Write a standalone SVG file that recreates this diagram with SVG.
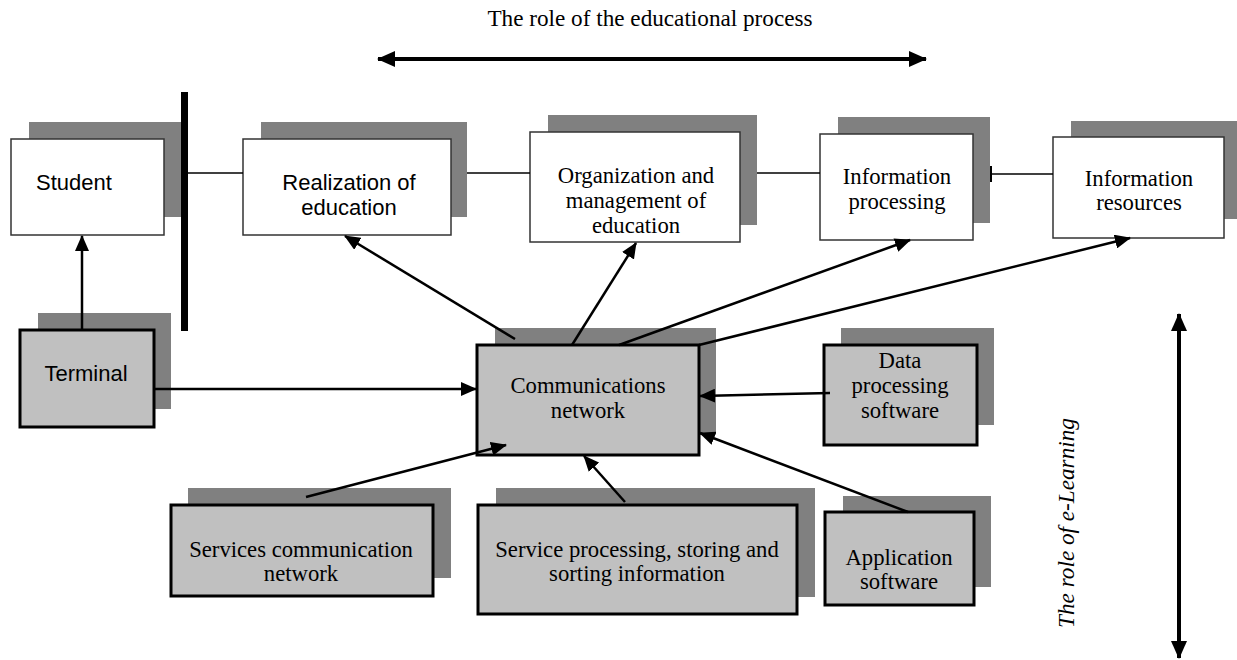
<svg xmlns="http://www.w3.org/2000/svg" width="1237" height="660" viewBox="0 0 1237 660">
<defs>
<style>
.sh{fill:#808080}
.wb{fill:#fff;stroke:#333;stroke-width:1.5}
.gb{fill:#c0c0c0;stroke:#000;stroke-width:3}
.sans{font-family:"Liberation Sans",Arial,sans-serif;font-size:22px;fill:#000;text-anchor:middle}
.serif{font-family:"Liberation Serif","Times New Roman",serif;font-size:22.7px;fill:#000;text-anchor:middle}
.ttl{font-size:23.2px}
.ln{stroke:#000;stroke-width:1.5;fill:none}
.ar{stroke:#000;stroke-width:2.5;fill:none;marker-end:url(#ah)}
.big{stroke:#000;stroke-width:4;fill:none;marker-end:url(#bh);marker-start:url(#bh)}
</style>
<marker id="ah" markerUnits="userSpaceOnUse" markerWidth="16" markerHeight="14" refX="15" refY="7" orient="auto"><path d="M0,0 L16,7 L0,14 z" fill="#000"/></marker>
<marker id="bh" markerUnits="userSpaceOnUse" markerWidth="18" markerHeight="16" refX="17" refY="8" orient="auto-start-reverse"><path d="M0,0 L18,8 L0,16 z" fill="#000"/></marker>
</defs>
<rect width="1237" height="660" fill="#fff"/>

<g id="title-top">
<text class="serif ttl" x="650" y="26">The role of the educational process</text>
</g>
<g id="title-side">
<text class="serif ttl" font-style="italic" transform="translate(1074,523) rotate(-90)">The role of e-Learning</text>
</g>

<g id="student">
<rect class="sh" x="29" y="122" width="154" height="95"/>
<rect class="wb" x="11" y="139" width="153" height="96" stroke-width="2"/>
<text class="sans" x="74" y="190">Student</text>
</g>
<g id="realization">
<rect class="sh" x="261" y="122" width="206" height="95"/>
<rect class="wb" x="243" y="139" width="208" height="96"/>
<text class="sans" x="349" y="190">Realization of</text>
<text class="sans" x="349" y="215">education</text>
</g>
<g id="organization">
<rect class="sh" x="548" y="115" width="209" height="110"/>
<rect class="wb" x="530" y="132" width="210" height="110"/>
<text class="serif" x="636" y="183">Organization and</text>
<text class="serif" x="636" y="208">management of</text>
<text class="serif" x="636" y="233">education</text>
</g>
<g id="info-processing">
<rect class="sh" x="838" y="117" width="152" height="106"/>
<rect class="wb" x="820" y="134" width="153" height="106"/>
<text class="serif" x="897" y="184">Information</text>
<text class="serif" x="897" y="209">processing</text>
</g>
<g id="info-resources">
<rect class="sh" x="1071" y="121" width="166" height="98"/>
<rect class="wb" x="1053" y="137" width="171" height="101"/>
<text class="serif" x="1139" y="186">Information</text>
<text class="serif" x="1139" y="210">resources</text>
</g>
<g id="terminal">
<rect class="sh" x="38" y="313" width="133" height="96"/>
<rect class="gb" x="20" y="330" width="134" height="97"/>
<text class="sans" x="86" y="381">Terminal</text>
</g>
<g id="comm-network">
<rect class="sh" x="495" y="328" width="221" height="107"/>
<rect class="gb" x="477" y="345" width="222" height="110"/>
<text class="serif" x="588" y="393">Communications</text>
<text class="serif" x="588" y="418">network</text>
</g>
<g id="data-processing">
<rect class="sh" x="841" y="328" width="153" height="97"/>
<rect class="gb" x="824" y="345" width="153" height="100"/>
<text class="serif" x="900" y="368">Data</text>
<text class="serif" x="900" y="393">processing</text>
<text class="serif" x="900" y="418">software</text>
</g>
<g id="services-comm">
<rect class="sh" x="188" y="488" width="263" height="90"/>
<rect class="gb" x="171" y="505" width="262" height="91"/>
<text class="serif" x="301" y="557">Services communication</text>
<text class="serif" x="301" y="581">network</text>
</g>
<g id="service-processing">
<rect class="sh" x="496" y="488" width="319" height="109"/>
<rect class="gb" x="478" y="505" width="319" height="109"/>
<text class="serif" x="637" y="557">Service processing, storing and</text>
<text class="serif" x="637" y="581">sorting information</text>
</g>
<g id="application">
<rect class="sh" x="843" y="496" width="148" height="91"/>
<rect class="gb" x="825" y="512" width="149" height="93"/>
<text class="serif" x="899" y="565">Application</text>
<text class="serif" x="899" y="589">software</text>
</g>

<g id="connectors">
<rect x="181" y="92" width="7" height="239" fill="#000"/>
<line class="ln" x1="185" y1="173" x2="243" y2="173"/>
<line class="ln" x1="467" y1="173" x2="530" y2="173"/>
<line class="ln" x1="757" y1="173" x2="820" y2="173"/>
<line class="ln" x1="991" y1="174" x2="1053" y2="174"/>
<line x1="991" y1="166" x2="991" y2="182" stroke="#000" stroke-width="2"/>
<line class="ar" x1="82" y1="330" x2="82" y2="236"/>
<line class="ar" x1="154" y1="389" x2="476" y2="389" stroke-width="2"/>
<line class="ar" x1="515" y1="339" x2="345" y2="236"/>
<line class="ar" x1="572" y1="345" x2="636" y2="243"/>
<line class="ar" x1="619" y1="345" x2="910" y2="240"/>
<line class="ar" x1="699" y1="345" x2="1130" y2="238"/>
<line class="ar" x1="830" y1="393" x2="700" y2="396"/>
<line class="ar" x1="306" y1="497" x2="506" y2="445"/>
<line class="ar" x1="625" y1="502" x2="584" y2="456"/>
<line class="ar" x1="908" y1="512" x2="700" y2="433"/>
<line class="big" x1="378" y1="59" x2="926" y2="59"/>
<line class="big" x1="1179" y1="314" x2="1179" y2="658"/>
</g>
</svg>
